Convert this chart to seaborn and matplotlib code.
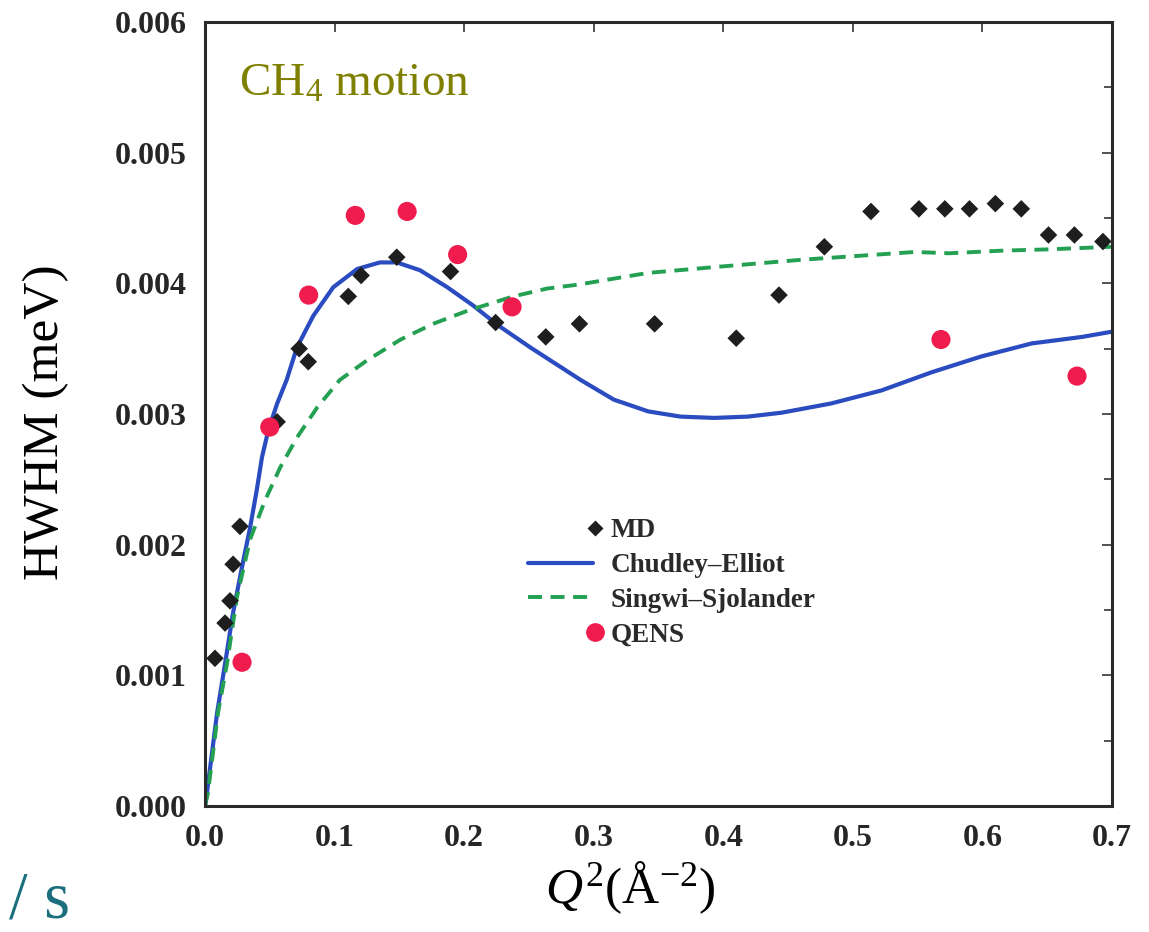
import numpy as np
import pandas as pd
import matplotlib
matplotlib.use("Agg")
import matplotlib.pyplot as plt
from matplotlib.lines import Line2D
from matplotlib.legend_handler import HandlerLine2DCompound
from matplotlib.ticker import MultipleLocator, FormatStrFormatter
import seaborn as sns

# MD simulation points
md_q2 = [0.0077, 0.0155, 0.0193, 0.0217, 0.027, 0.0557, 0.0727, 0.0797, 0.1106, 0.1205,
         0.148, 0.1895, 0.2243, 0.263, 0.289, 0.347, 0.410, 0.443, 0.478, 0.514,
         0.551, 0.571, 0.590, 0.610, 0.630, 0.651, 0.671, 0.693]
md_hwhm = [0.00113, 0.00140, 0.00157, 0.00185, 0.00214, 0.00294, 0.00350, 0.00340, 0.00390, 0.00406,
           0.00420, 0.00409, 0.00370, 0.00359, 0.00369, 0.00369, 0.00358, 0.00391, 0.00428, 0.00455,
           0.00457, 0.00457, 0.00457, 0.00461, 0.00457, 0.00437, 0.00437, 0.00432]

# QENS experiment points
qens_q2 = [0.0286, 0.050, 0.080, 0.116, 0.156, 0.195, 0.237, 0.568, 0.673]
qens_hwhm = [0.00110, 0.00290, 0.00391, 0.00452, 0.00455, 0.00422, 0.00382, 0.00357, 0.00329]

# Chudley-Elliot model
ce_q2 = [0.0, 0.0015, 0.0093, 0.0155, 0.0217, 0.0286, 0.0348, 0.040, 0.044, 0.049,
         0.0557, 0.063, 0.071, 0.0835, 0.099, 0.1175, 0.135, 0.148, 0.166, 0.187,
         0.207, 0.226, 0.251, 0.29, 0.3155, 0.342, 0.367, 0.393, 0.419, 0.445,
         0.483, 0.522, 0.561, 0.599, 0.638, 0.677, 0.70]
ce_hwhm = [0.0, 0.0001, 0.00071, 0.00109, 0.00148, 0.00183, 0.00213, 0.00242, 0.00267, 0.00288,
           0.00308, 0.00326, 0.00351, 0.00375, 0.00397, 0.00411, 0.00416, 0.00416, 0.00410, 0.00397,
           0.00383, 0.00368, 0.00351, 0.00326, 0.00311, 0.00302, 0.00298, 0.00297, 0.00298, 0.00301,
           0.00308, 0.00318, 0.00332, 0.00344, 0.00354, 0.00359, 0.00363]

# Singwi-Sjolander model
ss_q2 = [0.0, 0.0023, 0.010, 0.017, 0.0247, 0.0348, 0.0464, 0.058, 0.071, 0.0866,
         0.104, 0.125, 0.151, 0.176, 0.2026, 0.238, 0.264, 0.288, 0.342, 0.40,
         0.46, 0.548, 0.574, 0.615, 0.651, 0.70]
ss_hwhm = [0.0, 0.0001, 0.00071, 0.00109, 0.0016, 0.00204, 0.00234, 0.00259, 0.00282, 0.00305,
           0.00326, 0.00341, 0.00357, 0.00369, 0.00379, 0.00390, 0.00396, 0.00399, 0.00408, 0.00413,
           0.00418, 0.00424, 0.00423, 0.00425, 0.00426, 0.00428]

md_df = pd.DataFrame({"q2": md_q2, "hwhm": md_hwhm})
qens_df = pd.DataFrame({"q2": qens_q2, "hwhm": qens_hwhm})
ce_df = pd.DataFrame({"q2": ce_q2, "hwhm": ce_hwhm})
ss_df = pd.DataFrame({"q2": ss_q2, "hwhm": ss_hwhm})

blue = "#2a4cc0"
green = "#23a052"
red = "#f01c4e"
dark = "#1e1e1e"

sns.set_style("white")
plt.rcParams["font.family"] = ["Liberation Serif", "DejaVu Serif"]
plt.rcParams["mathtext.fontset"] = "custom"
plt.rcParams["mathtext.rm"] = "Liberation Serif"
plt.rcParams["mathtext.it"] = "Liberation Serif:italic"

fig = plt.figure(figsize=(11.49, 9.32), dpi=100)
ax = fig.add_axes([0.1784, 0.1352, 0.7894, 0.8412])

sns.lineplot(data=ce_df, x="q2", y="hwhm", ax=ax, color=blue, lw=3.0,
             sort=False, estimator=None, zorder=2)
sns.lineplot(data=ss_df, x="q2", y="hwhm", ax=ax, color=green, lw=2.8,
             sort=False, estimator=None, dashes=False, zorder=2)
ax.lines[-1].set_dashes((3.6, 2.2))
sns.scatterplot(data=md_df, x="q2", y="hwhm", ax=ax, marker="D", s=80,
                color=dark, edgecolor="none", zorder=3)
sns.scatterplot(data=qens_df, x="q2", y="hwhm", ax=ax, marker="o", s=190,
                color=red, edgecolor="none", zorder=4)

ax.set_xlim(0, 0.7)
ax.set_ylim(0, 0.006)
ax.xaxis.set_major_locator(MultipleLocator(0.1))
ax.xaxis.set_major_formatter(FormatStrFormatter("%.1f"))
ax.yaxis.set_major_locator(MultipleLocator(0.001))
ax.yaxis.set_minor_locator(MultipleLocator(0.0005))
ax.yaxis.set_major_formatter(FormatStrFormatter("%.3f"))
ax.tick_params(axis="both", which="both", direction="in", top=True, right=True,
               color="#333333", width=1.2)
ax.tick_params(axis="both", which="major", length=7, labelsize=23, pad=13,
               labelcolor="#262626")
ax.tick_params(axis="y", which="minor", length=6)
for lab in ax.get_xticklabels() + ax.get_yticklabels():
    lab.set_fontweight("bold")
for sp in ax.spines.values():
    sp.set_color("#2a2a2a")
    sp.set_linewidth(2.2)

ax.set_xlabel(r"$Q^2$(Å$^{-2}$)", fontsize=37, color="black")
ax.xaxis.set_label_coords(0.469, -0.068)
ax.set_ylabel("HWHM (meV)", fontsize=37, color="black")
ax.yaxis.set_label_coords(-0.15, 0.49)

ax.text(0.038, 0.92, r"CH$_4$ motion", transform=ax.transAxes, fontsize=34,
        color="#7f7f00", va="center", ha="left")
fig.text(0.008, 0.016, "/ s", fontsize=48, color="#1b6e7c", ha="left", va="baseline")


# legend markers sit at the right end of the handle, as in the original
class RightMarkerHandler(HandlerLine2DCompound):
    def get_xdata(self, legend, xdescent, ydescent, width, height, fontsize):
        xdata = np.array([-xdescent, -xdescent + width])
        return xdata, np.array([-xdescent + width * 1.04])


handles = [
    Line2D([], [], ls="none", marker="D", ms=8.5, color=dark, mec="none"),
    Line2D([], [], color=blue, lw=3.0),
    Line2D([], [], color=green, lw=2.8, dashes=(3.6, 2.2)),
    Line2D([], [], ls="none", marker="o", ms=13.5, color=red, mec="none"),
]
labels = ["MD", "Chudley\u2013Elliot", "Singwi\u2013Sjolander", "QENS"]
ax.legend(handles, labels, handler_map={Line2D: RightMarkerHandler()},
          loc="upper left", bbox_to_anchor=(0.356, 0.367), borderaxespad=0,
          borderpad=0, frameon=False, handlelength=2.4, handletextpad=0.65,
          labelspacing=0.36, prop={"family": "Liberation Serif", "weight": "bold", "size": 19.5},
          labelcolor="#2a2a2a")

fig.savefig("out.png", dpi=100)
